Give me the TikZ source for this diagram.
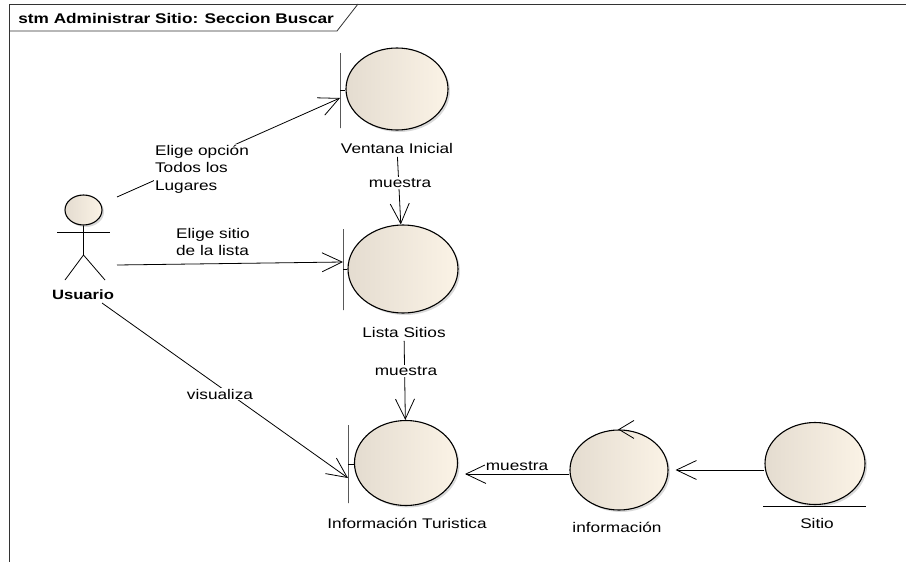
\documentclass[tikz,border=0pt]{standalone}
\usepackage{fontspec}
\setmainfont{Liberation Sans}[FakeStretch=1.23]
\usetikzlibrary{shapes.geometric,arrows.meta,shadows}

\definecolor{elemL}{RGB}{228,220,208}
\definecolor{elemR}{RGB}{251,243,230}
\tikzset{
  elem/.style={ellipse, draw, line width=1.1pt, left color=elemL, right color=elemR,
    inner sep=0pt, drop shadow={shadow xshift=2pt, shadow yshift=-2pt, opacity=0.3}},
  bar/.style={draw, line width=0.9pt, minimum width=0pt, inner sep=0pt},
  lbl/.style={fill=white, inner sep=1pt}
}

\begin{document}
\begin{tikzpicture}[x=1pt,y=-1pt,line width=0.8pt,>={Straight Barb[length=20pt,width=19pt]},
  font=\fontsize{14}{17.5}\selectfont]
\useasboundingbox (0,0) rectangle (906,562);
% frame
\draw[black!80] (9,562) -- (9,4) -- (906,4);
\draw[black!80] (9,31) -- (337,31) -- (358,4);
\node[anchor=west,inner sep=0pt,font=\fontsize{14}{17}\selectfont\bfseries] (T) at (18,18) {stm Administrar Sitio: Seccion Buscar};

% actor
\node[elem,minimum width=37pt,minimum height=30pt] (N0) at (83.5,210) {};
\node[font=\fontsize{13.5}{16}\selectfont\bfseries] (N0L) at (83,295) {Usuario};
\draw (57,232) -- (110,232);
\draw (N0.south) -- (83.5,255) -- (65,280) (83.5,255) -- (105,280);
\coordinate (a1) at (117,197);
\coordinate (a2) at (117,265);
\coordinate (a3) at (102,303);

% boundaries
\node[elem,minimum width=102pt,minimum height=82pt] (N1) at (397,89) {};
\node[bar,minimum height=75pt] (B1) at (340,90.5) {};
\node (L1) at (397,148) {Ventana Inicial};
\node[elem,minimum width=110pt,minimum height=88pt] (N2) at (403,269) {};
\node[bar,minimum height=81pt] (B2) at (343,269.5) {};
\node (L2) at (404,332) {Lista Sitios};
\node[elem,minimum width=103pt,minimum height=85pt] (N3) at (406,463) {};
\node[bar,minimum height=78pt] (B3) at (348,464) {};
\node (L3) at (407,523) {Información Turistica};
\draw (B1.center) -- (B1.center -| N1.west);
\draw (B2.center) -- (B2.center -| N2.west);
\draw (B3.center) -- (B3.center -| N3.west);

% control and entity
\node[elem,minimum width=98pt,minimum height=80pt] (N4) at (619,470) {};
\node (L4) at (617,527) {información};
\draw ([xshift=15pt,yshift=9pt]N4.north) -- (N4.north) -- ([xshift=15pt,yshift=-9pt]N4.north);
\node[elem,minimum width=100pt,minimum height=82pt] (N5) at (815,463.5) {};
\node (L5) at (817,523) {Sitio};
\draw (N5.south -| N5.west) ++(-1,1.5) -- ++(103,0);

\path[->] (a1) edge ([yshift=-7.5pt]B1.center)
          (a2) edge ([yshift=7.5pt]B2.center)
          (a3) edge ([yshift=-14pt]B3.center);
\path[->] (L1) edge (N2) (L2) edge (N3);
\path[->] ([yshift=-4pt]N4.west) edge ([xshift=7pt,yshift=-11pt]N3.east)
          (N5.west |- N4.east) edge ([xshift=7pt]N4.east);

\node[lbl,align=left] (E1) at (202,169) {Elige opción\\Todos los\\Lugares};
\node[lbl,align=left] (E2) at (213,242) {Elige sitio\\de la lista};
\node[lbl] (E3) at (220,394) {visualiza};
\node[lbl] (E4) at (400,183) {muestra};
\node[lbl] (E5) at (406,371) {muestra};
\node[lbl] (E6) at (517,466) {muestra};
\end{tikzpicture}
\end{document}
